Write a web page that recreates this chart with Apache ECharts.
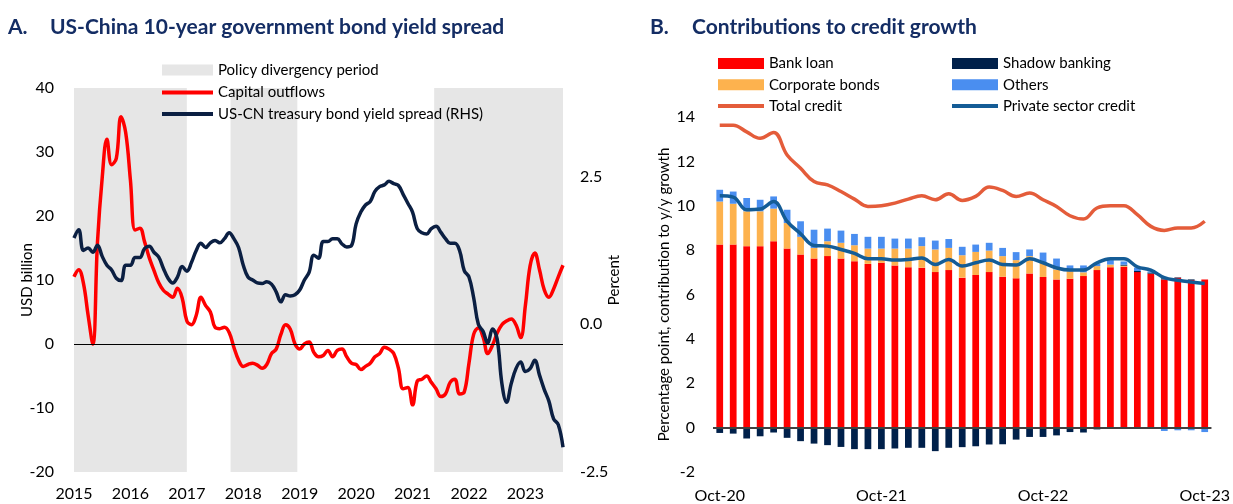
<!DOCTYPE html>
<html>
<head>
<meta charset="utf-8">
<script src="https://cdn.jsdelivr.net/npm/echarts@6/dist/echarts.min.js"></script>
<style>
  html, body { margin: 0; padding: 0; background: #fff; }
  #chart { width: 1233px; height: 504px; }
</style>
</head>
<body>
<div id="chart"></div>
<script>
// Panel A: monthly, index 0 = Jan 2015
const capitalOutflows = [
  10.5, 11.6, 9.5, 4.5, 0, 16, 26, 32, 28, 29, 35.5, 33, 25.6, 17.8, 18.1, 16,
  13.5, 11.5, 9.6, 8.4, 7.8, 7.3, 8.7, 7.2, 3.6, 3, 4.5, 7.3, 6, 5, 2.6, 2.4,
  2.6, 1.8, -0.5, -2.5, -3.5, -3.2, -3, -3.3, -3.8, -3.2, -1.5, -0.8, 1.5, 3, 2.3, 0,
  -0.8, 0, 0.3, -1.3, -2, -1.8, -1, -2, -1, -0.8, -2, -3, -3.2, -4, -3.5, -3,
  -2, -1.5, -0.5, -0.8, -1.5, -3.8, -7, -6.8, -9.5, -5.8, -5.5, -5, -6, -7, -8.2, -7.8,
  -6, -5.5, -7.8, -7.5, -3, 1.5, 2.5, 1.1, -1.5, -0.2, 1.7, 3, 3.6, 3.9, 3, 1,
  6, 12.2, 14.2, 11.6, 8.5, 7.3, 8.6, 10.5, 12.3
]
const bondSpread = [
  1.46, 1.6, 1.25, 1.29, 1.22, 1.34, 1.15, 1.0, 0.92, 0.78, 0.74, 1.0, 1.0, 1.13, 1.13, 1.28,
  1.32, 1.22, 1.14, 0.95, 0.78, 0.7, 0.8, 0.98, 0.9, 1.05, 1.25, 1.37, 1.3, 1.38, 1.42, 1.38,
  1.45, 1.55, 1.45, 1.3, 1.0, 0.8, 0.75, 0.7, 0.69, 0.72, 0.68, 0.55, 0.38, 0.5, 0.48, 0.5,
  0.58, 0.75, 0.88, 1.17, 1.12, 1.4, 1.4, 1.45, 1.45, 1.36, 1.31, 1.33, 1.7, 1.9, 2.02, 2.08,
  2.25, 2.33, 2.36, 2.42, 2.38, 2.35, 2.2, 2.05, 1.9, 1.62, 1.55, 1.53, 1.62, 1.66, 1.56, 1.45,
  1.37, 1.37, 1.25, 0.91, 0.8, 0.45, 0.0, -0.12, -0.32, -0.08, -0.25, -1.0, -1.32, -1.0, -0.75, -0.64,
  -0.8, -0.75, -0.61, -0.86, -1.1, -1.3, -1.6, -1.7, -2.08
]
// shaded policy divergency periods, in months from Jan 2015
const policyPeriods = [[0, 24], [33.3, 47.5], [76.6, 104]]

// Panel B
const creditMonths = [
  'Oct-20', 'Nov-20', 'Dec-20', 'Jan-21', 'Feb-21', 'Mar-21', 'Apr-21', 'May-21', 'Jun-21', 'Jul-21',
  'Aug-21', 'Sep-21', 'Oct-21', 'Nov-21', 'Dec-21', 'Jan-22', 'Feb-22', 'Mar-22', 'Apr-22', 'May-22',
  'Jun-22', 'Jul-22', 'Aug-22', 'Sep-22', 'Oct-22', 'Nov-22', 'Dec-22', 'Jan-23', 'Feb-23', 'Mar-23',
  'Apr-23', 'May-23', 'Jun-23', 'Jul-23', 'Aug-23', 'Sep-23', 'Oct-23'
]
const bankLoan = [
  8.25, 8.25, 8.18, 8.18, 8.4, 8.07, 7.8, 7.62, 7.73, 7.62, 7.5, 7.38, 7.43, 7.31, 7.23, 7.21,
  7.01, 7.1, 6.76, 6.88, 7.01, 6.8, 6.73, 6.95, 6.79, 6.68, 6.71, 6.83, 7.1, 7.23, 7.25, 7.01,
  6.94, 6.68, 6.76, 6.65, 6.68
]
const corporateBonds = [
  1.94, 1.84, 1.57, 1.57, 1.47, 1.15, 0.8, 0.48, 0.67, 0.71, 0.72, 0.69, 0.64, 0.76, 0.84, 0.97,
  1.02, 1.0, 1.01, 1.04, 0.97, 0.93, 0.82, 0.78, 0.65, 0.45, 0.34, 0.17, 0.18, 0.12, 0.05, 0,
  0, 0, 0, 0, 0
]
const shadowBanking = [
  -0.24, -0.27, -0.49, -0.39, -0.22, -0.46, -0.61, -0.72, -0.79, -0.87, -0.97, -0.97, -0.97, -0.94, -0.91, -0.91,
  -1.06, -0.91, -0.88, -0.84, -0.76, -0.75, -0.54, -0.42, -0.42, -0.35, -0.2, -0.22, -0.08, -0.02, 0.04, 0.05,
  0.05, 0.05, 0.02, 0.03, 0
]
const others = [
  0.53, 0.55, 0.6, 0.52, 0.55, 0.6, 0.7, 0.82, 0.57, 0.55, 0.51, 0.53, 0.53, 0.45, 0.45, 0.4,
  0.4, 0.4, 0.38, 0.33, 0.35, 0.37, 0.36, 0.3, 0.45, 0.49, 0.26, 0.31, 0.12, 0.2, 0.15, 0.15,
  0.05, -0.15, -0.12, -0.12, -0.2
]
const totalCredit = [
  13.63, 13.63, 13.33, 13.04, 13.3, 12.29, 11.69, 11.09, 10.94, 10.64, 10.3, 9.97, 10.0, 10.12, 10.3, 10.45,
  10.27, 10.54, 10.24, 10.42, 10.84, 10.69, 10.42, 10.57, 10.27, 9.97, 9.55, 9.4, 9.9, 10.0, 10.0, 9.6,
  9.07, 8.89, 9.0, 9.0, 9.3
]
const privateCredit = [
  10.45, 10.39, 9.82, 9.85, 10.19, 9.3, 8.74, 8.21, 8.18, 8.03, 7.85, 7.61, 7.61, 7.55, 7.58, 7.65,
  7.35, 7.58, 7.28, 7.43, 7.55, 7.35, 7.33, 7.61, 7.43, 7.2, 7.1, 7.1, 7.43, 7.61, 7.61, 7.25,
  7.1, 6.76, 6.64, 6.56, 6.5
]

const FONT = 'Lato'
const titleColor = '#142D64'
const tick = { fontFamily: FONT, fontSize: 16, color: '#000' }
const legendText = { fontFamily: FONT, fontSize: 15, color: '#000', lineHeight: 16 }
const titleText = { fontFamily: FONT, fontSize: 21, fontWeight: 'bold', color: titleColor }
const axisName = { fontFamily: FONT, fontSize: 15, color: '#000' }

// one small vertical legend block; line series get a flat rect icon (no symbol)
function legendBlock(left, top, items, height, gap) {
  return {
    left: left, top: top, orient: 'vertical', padding: 0, icon: 'rect',
    itemWidth: left < 600 ? 51 : 46, itemHeight: height, itemGap: gap,
    textStyle: legendText, data: items
  }
}

const chart = echarts.init(document.getElementById('chart'), null, { renderer: 'canvas' })

chart.setOption({
  animation: false,
  title: [
    { text: 'A.', left: 8, top: 17, padding: 0, textStyle: titleText },
    { text: 'US-China 10-year government bond yield spread', left: 50, top: 17, padding: 0, textStyle: titleText },
    { text: 'B.', left: 650, top: 17, padding: 0, textStyle: titleText },
    { text: 'Contributions to credit growth', left: 692, top: 17, padding: 0, textStyle: titleText }
  ],
  legend: [
    legendBlock(162, 62, ['Policy divergency period'], 11, 6),
    legendBlock(162, 84.5, ['Capital outflows', 'US-CN treasury bond yield spread (RHS)'], 4, 5.5),
    legendBlock(718, 55.5, ['Bank loan', 'Corporate bonds'], 11, 5.3),
    legendBlock(718, 98, ['Total credit'], 4, 5),
    legendBlock(952, 55.5, ['Shadow banking', 'Others'], 11, 5.3),
    legendBlock(952, 98, ['Private sector credit'], 4, 5)
  ],
  grid: [
    { left: 74, top: 88, width: 489, height: 384 },
    { left: 713, top: 117, width: 499, height: 357 }
  ],
  xAxis: [
    {
      gridIndex: 0, type: 'value', min: 0, max: 104, interval: 12,
      axisLine: { show: false }, axisTick: { show: false }, splitLine: { show: false },
      axisLabel: {
        ...tick, margin: 14, showMaxLabel: false,
        formatter: v => (v % 12 === 0 ? String(2015 + v / 12) : '')
      }
    },
    {
      gridIndex: 1, type: 'category', data: creditMonths,
      axisLine: { show: false }, axisTick: { show: false },
      axisLabel: { ...tick, margin: 16, interval: i => i % 12 === 0 }
    }
  ],
  yAxis: [
    {
      gridIndex: 0, type: 'value', min: -20, max: 40, interval: 10,
      name: 'USD billion', nameLocation: 'middle', nameGap: 39, nameMoveOverlap: false,
      nameTextStyle: axisName,
      axisLine: { show: false }, axisTick: { show: false }, splitLine: { show: false },
      axisLabel: { ...tick, margin: 20 }
    },
    {
      gridIndex: 0, type: 'value', position: 'right', min: -2.5, max: 4, interval: 2.5,
      name: 'Percent', nameLocation: 'middle', nameGap: 44, nameRotate: 90, nameMoveOverlap: false,
      nameTextStyle: axisName,
      axisLine: { show: false }, axisTick: { show: false }, splitLine: { show: false },
      axisLabel: { ...tick, margin: 17, showMaxLabel: false, formatter: v => v.toFixed(1) }
    },
    {
      gridIndex: 1, type: 'value', min: -2, max: 14, interval: 2,
      name: 'Percentage point, contribution to y/y growth', nameLocation: 'middle', nameGap: 41,
      nameMoveOverlap: false, nameTextStyle: axisName,
      axisLine: { show: false }, axisTick: { show: false }, splitLine: { show: false },
      axisLabel: { ...tick, margin: 18 }
    }
  ],
  series: [
    {
      name: 'Policy divergency period', type: 'bar', xAxisIndex: 0, yAxisIndex: 0, data: [],
      itemStyle: { color: '#E6E6E6' },
      markArea: {
        silent: true,
        itemStyle: { color: '#E6E6E6' },
        data: policyPeriods.map(p => [{ xAxis: p[0] }, { xAxis: p[1] }])
      },
      markLine: {
        silent: true, symbol: 'none', label: { show: false },
        lineStyle: { color: '#000', width: 1, type: 'solid' },
        data: [{ yAxis: 0 }]
      }
    },
    {
      name: 'Capital outflows', type: 'line', xAxisIndex: 0, yAxisIndex: 0,
      data: capitalOutflows.map((v, i) => [i, v]),
      symbol: 'none', smooth: 0.4,
      lineStyle: { color: '#FF0000', width: 3.5 }, itemStyle: { color: '#FF0000' }
    },
    {
      name: 'US-CN treasury bond yield spread (RHS)', type: 'line', xAxisIndex: 0, yAxisIndex: 1,
      data: bondSpread.map((v, i) => [i, v]),
      symbol: 'none', smooth: 0.4,
      lineStyle: { color: '#0B1F42', width: 3.5 }, itemStyle: { color: '#0B1F42' }
    },
    {
      name: 'Bank loan', type: 'bar', xAxisIndex: 1, yAxisIndex: 2, stack: 'credit',
      data: bankLoan, barWidth: '50%', itemStyle: { color: '#FF0000' }
    },
    {
      name: 'Corporate bonds', type: 'bar', xAxisIndex: 1, yAxisIndex: 2, stack: 'credit',
      data: corporateBonds, barWidth: '50%', itemStyle: { color: '#FDB24E' }
    },
    {
      name: 'Shadow banking', type: 'bar', xAxisIndex: 1, yAxisIndex: 2, stack: 'credit',
      data: shadowBanking, barWidth: '50%', itemStyle: { color: '#00204A' }
    },
    {
      name: 'Others', type: 'bar', xAxisIndex: 1, yAxisIndex: 2, stack: 'credit',
      data: others, barWidth: '50%', itemStyle: { color: '#4A8EF0' },
      markLine: {
        silent: true, symbol: 'none', label: { show: false },
        lineStyle: { color: '#404040', width: 2, type: 'solid' },
        data: [{ yAxis: 0 }]
      }
    },
    {
      name: 'Total credit', type: 'line', xAxisIndex: 1, yAxisIndex: 2,
      data: totalCredit, symbol: 'none', smooth: 0.4,
      lineStyle: { color: '#E45C3A', width: 3.5 }, itemStyle: { color: '#E45C3A' }
    },
    {
      name: 'Private sector credit', type: 'line', xAxisIndex: 1, yAxisIndex: 2,
      data: privateCredit, symbol: 'none', smooth: 0.4,
      lineStyle: { color: '#145C96', width: 3.5 }, itemStyle: { color: '#145C96' }
    }
  ]
})
</script>
</body>
</html>
